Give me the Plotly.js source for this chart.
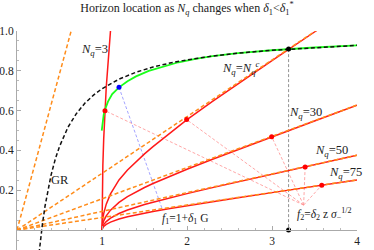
<!DOCTYPE html>
<html><head><meta charset="utf-8">
<script src="https://cdn.plot.ly/plotly-3.0.1.min.js"></script>
<style>html,body{margin:0;padding:0;background:#fff}#chart{width:374px;height:250px}</style>
</head><body><div id="chart"></div>
<script>
// ---- data ----
const zN3 = [1, 1.0005, 1.002, 1.005, 1.01, 1.02, 1.03, 1.05, 1.1];
const fN3 = [0, 0.0727, 0.1455, 0.2299, 0.3246, 0.4575, 0.5587, 0.7173, 1.0013];

const zRed = [1, 1.0005, 1.002, 1.005, 1.01, 1.02, 1.03, 1.05, 1.1, 1.15, 1.2, 1.3, 1.4, 1.5, 1.6, 1.8, 2.0, 2.3, 2.6, 3.0, 3.5, 4.0];
const fNc  = [0, 0.0132, 0.0264, 0.0417, 0.0589, 0.0831, 0.1014, 0.1302, 0.1818, 0.2203, 0.2521, 0.302, 0.345, 0.383, 0.419, 0.488, 0.555, 0.646, 0.735, 0.851, 0.995, 1.1385];
const fN30 = [0, 0.0073, 0.0146, 0.0230, 0.0325, 0.0458, 0.0559, 0.0717, 0.1001, 0.1213, 0.1389, 0.1679, 0.1922, 0.2139, 0.2340, 0.2711, 0.3059, 0.3560, 0.4048, 0.4689, 0.5482, 0.6272];
const fN50 = [0, 0.0044, 0.0087, 0.0138, 0.0194, 0.0274, 0.0335, 0.0429, 0.0600, 0.0727, 0.0832, 0.1005, 0.1151, 0.1281, 0.1401, 0.1623, 0.1832, 0.2132, 0.2424, 0.2808, 0.3282, 0.3755];
const fN75 = [0, 0.0029, 0.0058, 0.0092, 0.0130, 0.0184, 0.0224, 0.0288, 0.0402, 0.0487, 0.0557, 0.0674, 0.0771, 0.0858, 0.0939, 0.1088, 0.1228, 0.1429, 0.1624, 0.1882, 0.2200, 0.2517];

// dashed asymptotes from the origin (end points)
const fanEndZ = [0.637, 3.51, 4.0, 4.0, 4.0];
const fanEndF = [1.0, 1.0, 0.628, 0.376, 0.252];

const zGreen = [0.997, 1.005, 1.02, 1.04, 1.07, 1.12, 1.2, 1.3, 1.4, 1.55, 1.7, 1.9, 2.1, 2.3, 2.6, 3.0, 3.5, 4.0];
const fGreen = [0.50, 0.54, 0.58, 0.61, 0.645, 0.683, 0.717, 0.748, 0.772, 0.80, 0.82, 0.843, 0.860, 0.874, 0.8885, 0.9033, 0.9171, 0.9275];

const zGR = [0.26, 0.28, 0.3, 0.33, 0.35, 0.4, 0.45, 0.5, 0.6, 0.7, 0.8, 0.9, 1.0, 1.2, 1.4, 1.6, 1.8, 2.0, 2.3, 2.6, 3.0, 3.5, 4.0];
const fGR = [-0.115, -0.036, 0.033, 0.121, 0.171, 0.275, 0.356, 0.42, 0.517, 0.586, 0.638, 0.678, 0.71, 0.758, 0.793, 0.819, 0.839, 0.855, 0.874, 0.889, 0.903, 0.917, 0.928];

const redDotZ = [1.035, 1.996, 2.996, 3.39, 3.585];
const redDotF = [0.60, 0.555, 0.469, 0.3175, 0.2253];
const f2Point = [3.372, 0.1256];
const blueDot = [1.2, 0.717];
const f1Point = [1.706, 0.109];
const horizonZ = 3.195;
const horizonF = 0.909;

const labels = [
  {t:'<i>N</i><sub><i>q</i></sub>=3', z:0.91, f:0.905, s:12.5},
  {t:'<i>N</i><sub><i>q</i></sub>=<i>N</i><sub><i>q</i></sub><sup><i>c</i></sup>', z:2.63, f:0.814, s:12.5},
  {t:'<i>N</i><sub><i>q</i></sub>=30', z:3.39, f:0.588, s:12.5},
  {t:'<i>N</i><sub><i>q</i></sub>=50', z:3.70, f:0.397, s:12.5},
  {t:'<i>N</i><sub><i>q</i></sub>=75', z:3.862, f:0.286, s:12.5},
  {t:'GR', z:0.509, f:0.251, s:12.5},
  {t:'<i>f</i><sub>1</sub>=1+<i>δ</i><sub>1</sub> G', z:1.98, f:0.055, s:11.5},
  {t:'<i>f</i><sub>2</sub>=<i>δ</i><sub>2</sub> z <i>σ</i><sub>−</sub><sup>1/2</sup>', z:3.62, f:0.08, s:11.5},
  {t:'f[z]', z:0.03, f:1.048, s:12.5},
  {t:'z', z:4.145, f:0.012, s:12.5}
];

// ---- traces ----
const RED = '#ff1a1a', ORANGE = '#ff8c1a', FONT = 'Liberation Serif, Times New Roman, serif';
const traces = [];
const pinkZ = [], pinkF = [];
for (let i = 0; i < redDotZ.length; i++) { pinkZ.push(f2Point[0], redDotZ[i], null); pinkF.push(f2Point[1], redDotF[i], null); }
traces.push({x:pinkZ, y:pinkF, mode:'lines', line:{color:'#ff9090', width:0.8, dash:'3px,2px'}, hoverinfo:'skip'});
traces.push({x:[blueDot[0], f1Point[0]], y:[blueDot[1], f1Point[1]], mode:'lines', line:{color:'#8c8cff', width:0.8, dash:'3px,2px'}, hoverinfo:'skip'});
traces.push({x:[horizonZ, horizonZ], y:[horizonF, 0], mode:'lines', line:{color:'#777', width:0.8, dash:'3px,2px'}, hoverinfo:'skip'});

traces.push({x:zN3, y:fN3, mode:'lines', line:{color:RED, width:1.5}});
[fNc, fN30, fN50, fN75].forEach(f => traces.push({x:zRed, y:f, mode:'lines', line:{color:RED, width:1.5}}));
for (let i = 0; i < fanEndZ.length; i++) {
  traces.push({x:[0, fanEndZ[i]], y:[0, fanEndF[i]], mode:'lines', line:{color:ORANGE, width:1.5, dash:'4px,2.5px'}});
}
traces.push({x:zGreen, y:fGreen, mode:'lines', line:{color:'#1aff1a', width:1.8}});
traces.push({x:zGR, y:fGR, mode:'lines', line:{color:'#111', width:1.5, dash:'4px,2.5px'}});

traces.push({x:redDotZ, y:redDotF, mode:'markers', marker:{color:'#ff0000', size:5}});
traces.push({x:[blueDot[0]], y:[blueDot[1]], mode:'markers', marker:{color:'#0000ff', size:5}});
traces.push({x:[horizonZ, horizonZ], y:[horizonF, 0], mode:'markers', marker:{color:'#000', size:5}});

const layout = {
  width:374, height:250, margin:{l:17, r:17, t:31, b:0, pad:0},
  paper_bgcolor:'#fff', plot_bgcolor:'#fff', showlegend:false,
  title:{text:'Horizon location as <i>N</i><sub><i>q</i></sub> changes when <i>δ</i><sub>1</sub>&lt;<i>δ</i><sub>1</sub><sup>*</sup>',
         font:{family:FONT, size:12, color:'#222'}, x:0.5, xref:'container', y:1-8/250, yref:'container', yanchor:'middle'},
  xaxis:{range:[0,4], anchor:'free', position:0.1/1.1, showline:true, linecolor:'#aaa', linewidth:1,
         ticks:'inside', ticklen:4, tickcolor:'#aaa', tickvals:[1,2,3,4], ticktext:['1','2','3','4'],
         tickfont:{family:FONT, size:11.5, color:'#222'},
         minor:{tickmode:'linear', tick0:0, dtick:0.2, ticklen:2, tickcolor:'#bbb', ticks:'inside', showgrid:false},
         showgrid:false, zeroline:false},
  yaxis:{range:[-0.1,1.0], showline:true, linecolor:'#aaa', linewidth:1,
         ticks:'inside', ticklen:4, tickcolor:'#aaa', tickvals:[0.2,0.4,0.6,0.8,1.0], ticktext:['0.2','0.4','0.6','0.8','1.0'],
         tickfont:{family:FONT, size:11.5, color:'#222'},
         minor:{tickmode:'linear', tick0:0, dtick:0.05, ticklen:2, tickcolor:'#bbb', ticks:'inside', showgrid:false},
         showgrid:false, zeroline:false},
  annotations: labels.map(l => ({text:l.t, x:l.z, y:l.f, xref:'x', yref:'y', showarrow:false,
         xanchor:'center', yanchor:'middle', font:{family:FONT, size:l.s, color:'#222'}}))
};
Plotly.newPlot('chart', traces, layout, {staticPlot:true, displayModeBar:false});
</script></body></html>
